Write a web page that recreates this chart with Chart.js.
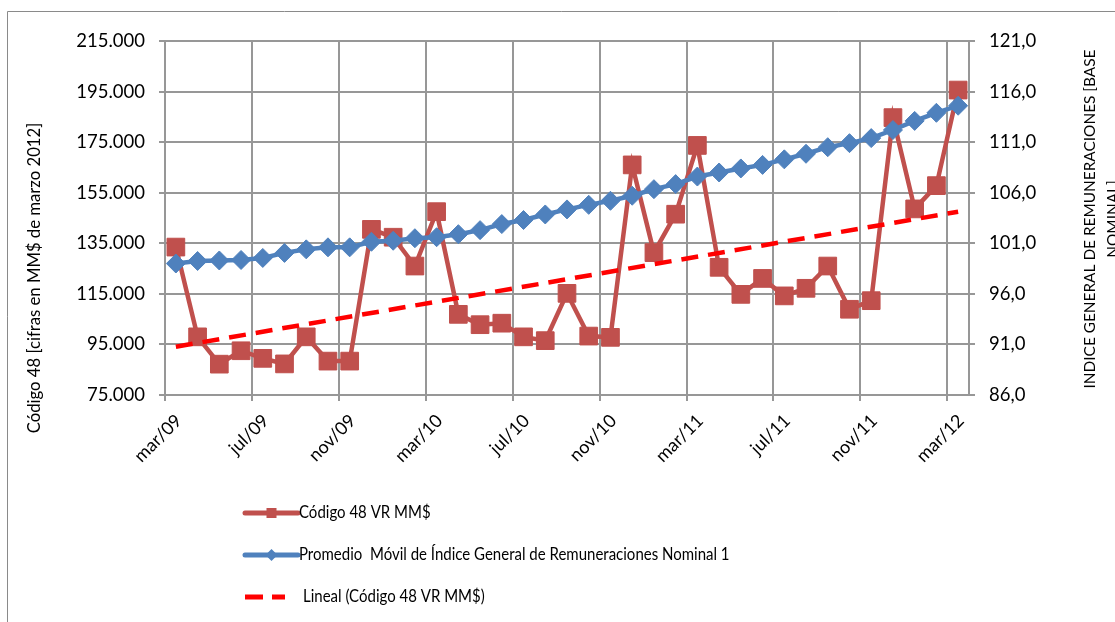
<!DOCTYPE html>
<html>
<head>
<meta charset="utf-8">
<script src="https://cdn.jsdelivr.net/npm/chart.js@4.4.1/dist/chart.umd.min.js"></script>
<style>
html,body{margin:0;padding:0;background:#fff;}
#wrap{position:relative;width:1115px;height:622px;overflow:hidden;}
canvas{display:block;}
</style>
</head>
<body>
<div id="wrap"><canvas id="c" width="1115" height="622"></canvas></div>
<script>
// ---- data ----
const categories = [
  'mar/09','abr/09','may/09','jun/09','jul/09','ago/09','sep/09','oct/09','nov/09','dic/09','ene/10','feb/10',
  'mar/10','abr/10','may/10','jun/10','jul/10','ago/10','sep/10','oct/10','nov/10','dic/10','ene/11','feb/11',
  'mar/11','abr/11','may/11','jun/11','jul/11','ago/11','sep/11','oct/11','nov/11','dic/11','ene/12','feb/12',
  'mar/12'
];
const codigo48 = [
  133500, 98000, 87200, 92500, 89500, 87300, 98000, 88400, 88400, 140500, 137400, 126000,
  147500, 106900, 102800, 103400, 98000, 96500, 115200, 98300, 97800, 166000, 131300, 146500,
  173700, 125500, 114800, 121100, 114200, 117200, 126000, 108900, 112300, 184700, 148600, 157800,
  195600
];
const promedioMovil = [
  99.0, 99.25, 99.3, 99.35, 99.55, 100.05, 100.4, 100.6, 100.6, 101.15, 101.25, 101.5,
  101.6, 101.9, 102.3, 102.9, 103.3, 103.85, 104.35, 104.8, 105.2, 105.7, 106.35, 106.85,
  107.6, 108.0, 108.4, 108.75, 109.3, 109.85, 110.5, 110.9, 111.4, 112.2, 113.1, 113.9,
  114.6
];
// trend line: endpoints, straight line between them
const tendenciaLineal = [94100].concat(new Array(35).fill(null)).concat([147500]);
const leftAxisTicks = [75000, 95000, 115000, 135000, 155000, 175000, 195000, 215000];
const rightAxisTicks = [86, 91, 96, 101, 106, 111, 116, 121];

const seriesNames = [
  'Código 48 VR MM$',
  'Promedio  Móvil de Índice General de Remuneraciones Nominal 1',
  'Lineal (Código 48 VR MM$)'
];
const leftTitle = 'Código 48 [cifras en MM$ de marzo 2012]';
const rightTitleLines = ['INDICE GENERAL DE REMUNERACIONES [BASE', 'NOMINAL]'];

// ---- styling ----
const FONT = 'Lato, "Open Sans", sans-serif';
const RED = '#C0504D', BLUE = '#4F81BD', TREND = '#FF0000', GRID = '#979797';

function fmtThousands(v){ return String(Math.round(v)).replace(/\B(?=(\d{3})+(?!\d))/g, '.'); }
function fmtComma(v){ return v.toFixed(1).replace('.', ','); }

const extras = {
  id: 'extras',
  afterDraw(chart){
    const ctx = chart.ctx;
    ctx.save();
    // outer frame (left + top)
    ctx.strokeStyle = '#8a8a8a';
    ctx.lineWidth = 1;
    ctx.beginPath();
    ctx.moveTo(7.5, 622); ctx.lineTo(7.5, 11.5); ctx.lineTo(1115, 11.5);
    ctx.stroke();

    // axis titles
    ctx.fillStyle = '#000';
    ctx.textAlign = 'center';
    ctx.textBaseline = 'middle';
    ctx.save();
    ctx.font = '16.7px ' + FONT;
    ctx.translate(35, 278); ctx.rotate(-Math.PI/2);
    ctx.fillText(leftTitle, 0, 0);
    ctx.restore();
    ctx.save();
    ctx.font = '15.4px ' + FONT;
    ctx.translate(1090, 219); ctx.rotate(-Math.PI/2);
    ctx.fillText(rightTitleLines[0], 0, 0);
    ctx.fillText(rightTitleLines[1], 0, 23);
    ctx.restore();

    // legend
    const lx0 = 245, lx1 = 298, mid = 271.5;
    const ys = [513, 555, 597];
    ctx.lineCap = 'round';
    ctx.strokeStyle = RED; ctx.lineWidth = 5;
    ctx.beginPath(); ctx.moveTo(lx0, ys[0]); ctx.lineTo(lx1, ys[0]); ctx.stroke();
    ctx.fillStyle = RED; ctx.fillRect(mid - 5, ys[0] - 5, 10, 10);
    ctx.strokeStyle = BLUE; ctx.lineWidth = 5;
    ctx.beginPath(); ctx.moveTo(lx0, ys[1]); ctx.lineTo(lx1, ys[1]); ctx.stroke();
    ctx.fillStyle = BLUE;
    ctx.beginPath(); ctx.moveTo(mid - 6, ys[1]); ctx.lineTo(mid, ys[1] - 6); ctx.lineTo(mid + 6, ys[1]); ctx.lineTo(mid, ys[1] + 6); ctx.closePath(); ctx.fill();
    ctx.strokeStyle = TREND; ctx.lineWidth = 5; ctx.lineCap = 'butt';
    ctx.beginPath(); ctx.moveTo(245, ys[2]); ctx.lineTo(263, ys[2]); ctx.moveTo(272, ys[2]); ctx.lineTo(285, ys[2]); ctx.stroke();
    ctx.fillStyle = '#000';
    ctx.font = '16.5px ' + FONT;
    ctx.textAlign = 'left';
    const sx = 15 / 16.5;
    const items = [[seriesNames[0], 299, ys[0]], [seriesNames[1], 299, ys[1]], [seriesNames[2], 303, ys[2]]];
    items.forEach(([t, x, y]) => {
      ctx.save();
      ctx.translate(x, y); ctx.scale(sx, 1);
      ctx.fillText(t, 0, 0);
      ctx.restore();
    });
    ctx.restore();
  }
};

new Chart(document.getElementById('c'), {
  type: 'line',
  data: {
    labels: categories,
    datasets: [
      {
        label: seriesNames[0], data: codigo48, yAxisID: 'y', order: 3,
        borderColor: RED, backgroundColor: RED, borderWidth: 4.5,
        pointStyle: 'rect', pointRadius: 12.5, pointBorderWidth: 1, pointBorderColor: RED,
        tension: 0
      },
      {
        label: seriesNames[1], data: promedioMovil, yAxisID: 'y1', order: 2,
        borderColor: BLUE, backgroundColor: BLUE, borderWidth: 4.5,
        pointStyle: 'rectRot', pointRadius: 9.5, pointBorderWidth: 1, pointBorderColor: BLUE,
        tension: 0
      },
      {
        label: seriesNames[2], data: tendenciaLineal, yAxisID: 'y', order: 1,
        borderColor: TREND, borderWidth: 4.5, borderDash: [17, 10], pointRadius: 0,
        spanGaps: true, fill: false, tension: 0
      }
    ]
  },
  options: {
    responsive: false,
    animation: false,
    events: [],
    layout: { padding: { top: 41, left: 0, right: 0, bottom: 0 } },
    plugins: { legend: { display: false }, tooltip: { enabled: false }, title: { display: false } },
    scales: {
      x: {
        type: 'category',
        offset: true,
        grid: {
          offset: true,
          lineWidth: 2,
          color: (c) => (c.index % 4 === 0 ? GRID : 'rgba(0,0,0,0)'),
          tickColor: (c) => (c.index % 4 === 0 ? GRID : 'rgba(0,0,0,0)'),
          tickLength: 6,
          drawTicks: true
        },
        border: { display: true, color: GRID, width: 2 },
        ticks: {
          autoSkip: false, maxRotation: 45, minRotation: 45, padding: 9, labelOffset: 3,
          color: '#000', font: { family: FONT, size: 18 },
          callback: (v, i) => (i % 4 === 0 ? categories[i] : '')
        },
        afterFit: (s) => { s.height = 227; }
      },
      y: {
        position: 'left',
        min: leftAxisTicks[0], max: leftAxisTicks[leftAxisTicks.length - 1],
        afterBuildTicks: (s) => { s.ticks = leftAxisTicks.map(v => ({ value: v })); },
        grid: { color: GRID, lineWidth: 2, tickLength: 6, tickColor: GRID },
        border: { display: true, color: GRID, width: 2 },
        ticks: { padding: 14, color: '#000', font: { family: FONT, size: 18.5 }, callback: (v) => fmtThousands(v) },
        afterFit: (s) => { s.width = 165; }
      },
      y1: {
        position: 'right',
        min: rightAxisTicks[0], max: rightAxisTicks[rightAxisTicks.length - 1],
        afterBuildTicks: (s) => { s.ticks = rightAxisTicks.map(v => ({ value: v })); },
        grid: { drawOnChartArea: false, color: GRID, lineWidth: 2, tickLength: 6, tickColor: GRID },
        border: { display: true, color: GRID, width: 2 },
        ticks: { padding: 14, color: '#000', font: { family: FONT, size: 18.5 }, callback: (v) => fmtComma(v) },
        afterFit: (s) => { s.width = 146; }
      }
    }
  },
  plugins: [extras]
});
</script>
</body>
</html>
